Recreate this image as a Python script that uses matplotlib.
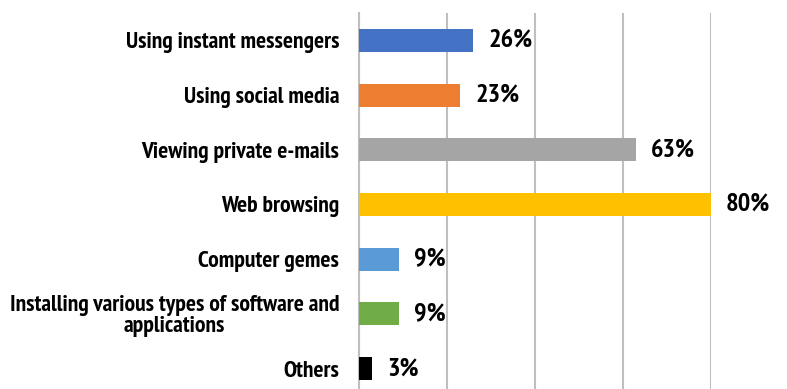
import matplotlib
matplotlib.use("Agg")
import matplotlib.pyplot as plt

activities = [
    "Using instant messengers",
    "Using social media",
    "Viewing private e-mails",
    "Web browsing",
    "Computer gemes",
    "Installing various types of software and\napplications",
    "Others",
]
shares = [26, 23, 63, 80, 9, 9, 3]
bar_colors = ["#4472C4", "#ED7D31", "#A5A5A5", "#FFC000", "#5B9BD5", "#70AD47", "#000000"]
grid_ticks = [0, 20, 40, 60, 80]

label_font = ["PT Sans Narrow", "Liberation Sans", "DejaVu Sans"]

fig = plt.figure(figsize=(7.87, 3.89), dpi=100)
ax = fig.add_axes([0.4562, -0.018, 0.4469, 0.9846])

ypos = list(range(len(activities)))
ax.barh(ypos, shares, height=0.42, color=bar_colors, zorder=3)

ax.set_xlim(0, 80)
ax.set_ylim(len(activities) - 0.5, -0.5)
ax.set_xticks(grid_ticks)
ax.set_xticklabels([])
ax.tick_params(axis="x", length=0)
ax.tick_params(axis="y", length=0, pad=14.4)
ax.grid(axis="x", color="#BFBFBF", linewidth=1.5, zorder=0)

for side in ["top", "right", "bottom"]:
    ax.spines[side].set_visible(False)
ax.spines["left"].set_color("#BFBFBF")
ax.spines["left"].set_linewidth(1.5)

ax.set_yticks(ypos)
ax.set_yticklabels(activities, fontsize=17, fontweight="bold", family=label_font,
                   multialignment="center", linespacing=0.98)

# value labels just past the end of each bar
for y, v in zip(ypos, shares):
    ax.annotate(f"{v}%", xy=(v, y), xytext=(10.8, 0), textcoords="offset points",
                va="center", ha="left", fontsize=19, fontweight="bold",
                family=label_font, annotation_clip=False)

fig.savefig("out.png", dpi=100)
